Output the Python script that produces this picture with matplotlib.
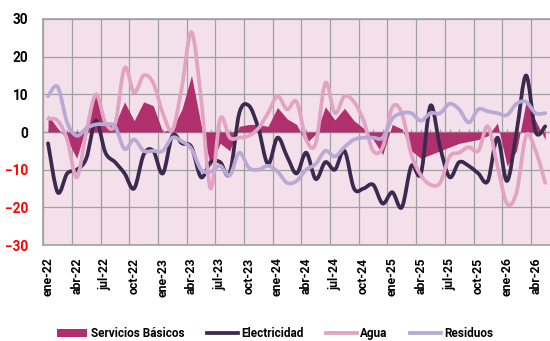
import numpy as np
import matplotlib.pyplot as plt
from matplotlib.path import Path
from matplotlib.patches import PathPatch, Patch
from matplotlib.lines import Line2D

plt.rcParams['font.family'] = ['Roboto', 'DejaVu Sans']

meses = ['ene', 'feb', 'mar', 'abr', 'may', 'jun', 'jul', 'ago', 'sep', 'oct', 'nov', 'dic']
fechas = [f'{m}-{a}' for a in range(22, 27) for m in meses][:53]

servicios = [4.5, 1, -2, -7, 1.5, 10, 2.5, 2, 8, 3, 8, 7, 0,
             1, 6, 15, 2, -9, -3, -5, 1.5, 2, 2, 1.5, 6.5, 3.5,
             2, -3, -0.5, 6.7, 3.2, 6.3, 3, 1, -2, -6, 2, 0.8, -5,
             -7, -6, -5, -4, -3, -2.5, -2, -1, 2.4, -9, -5, 8, 3, -2]
electricidad = [-3, -16, -11, -10, -7, 3, -5.5, -8, -11, -15, -6, -5, -11,
                -1, -3, -4, -12, -8, -8, -11, 5, 7, 1, -8.5, -1.5, -6.5,
                -11, -5.5, -12.5, -8, -10, -5, -15, -15, -14, -19, -16, -20, -9,
                -11, 7, -4, -12, -8, -9, -11, -13, -1.5, -13, 0, 15, 0, 1.5]
agua = [3.5, 3, -2, -12, 0, 10, 2.5, 2, 17, 10.5, 15, 13, 5,
        0.5, 12, 26.5, 9, -15, 3.5, -1.5, -1.5, -1, 1, 5, 9.5, 6,
        8, -2, -3, 13, 5, 9.5, 8, 3, -5, -4, 6.5, 5, -6,
        -11.5, -14, -13.5, -6.5, -5.5, -4, -5, 1.5, -9, -19, -16, -1, -5, -13.5]
residuos = [9.5, 12, 2.5, -1, 1, 2, 2, 1.5, -4.5, -2, -5, -5, -5,
            -1.5, -2.5, -4.5, -10, -10.5, -9, -11.5, -5.5, -9.5, -10, -9, -10.5, -13.5,
            -13, -10, -8.5, -5, -6.5, -4, -2, -1.5, -1.5, -1.5, 3.5, 5, 5,
            3, 5, 5, 7.5, 6, 2.5, 6, 5.5, 5, 4.5, 7.5, 8, 5, 5]

c_serv = '#b0306e'
c_elec = '#3b2a4f'
c_agua = '#e2a4c4'
c_resi = '#b8aad4'


def curva(x, y):
    # bezier suavizado tipo excel
    p = np.column_stack([x, y])
    ext = np.vstack([p[0], p, p[-1]])
    verts = [p[0]]
    for i in range(len(p) - 1):
        c1 = ext[i + 1] + (ext[i + 2] - ext[i]) / 6
        c2 = ext[i + 2] - (ext[i + 3] - ext[i + 1]) / 6
        verts += [c1, c2, p[i + 1]]
    codes = [Path.MOVETO] + [Path.CURVE4] * (len(verts) - 1)
    return Path(verts, codes)


x = np.arange(len(fechas))

fig = plt.figure(figsize=(5.5, 3.41), dpi=100)
ax = fig.add_axes([0.0787, 0.2815, 0.9213, 0.6628])
ax.set_facecolor('#f4e0eb')

ax.fill_between(x, servicios, 0, color=c_serv, lw=0, zorder=2)
for serie, col in [(electricidad, c_elec), (agua, c_agua), (residuos, c_resi)]:
    ax.add_patch(PathPatch(curva(x, serie), fill=False, edgecolor=col, lw=2.7,
                           capstyle='round', joinstyle='round', zorder=3))

ax.set_xlim(-0.5, 52.5)
ax.set_ylim(-30, 30)
ax.set_yticks(range(-30, 31, 10))
ax.set_xticks(x[::3])
ax.set_xticklabels(fechas[::3], rotation=90, fontsize=8.8, fontweight='bold')
ax.set_xticks(np.arange(-0.5, 53, 3), minor=True)
ax.tick_params(axis='x', which='both', length=0, pad=9)
ax.tick_params(axis='y', length=0, pad=11, labelsize=9.8)
for lab, v in zip(ax.get_yticklabels(), range(-30, 31, 10)):
    lab.set_fontweight('bold')
    lab.set_color('red' if v < 0 else 'black')

ax.grid(True, which='major', axis='y', color='#a0a0a0', lw=0.9, zorder=1)
ax.grid(True, which='minor', axis='x', color='#a0a0a0', lw=0.9, zorder=1)
ax.set_axisbelow(True)
for s in ['left', 'top', 'bottom']:
    ax.spines[s].set_color('#a0a0a0')
    ax.spines[s].set_linewidth(1.2)
ax.spines['right'].set_visible(False)

# eje horizontal en cero con marcas mensuales
eje0 = ax.secondary_xaxis(0.5)
eje0.set_xticks(x)
eje0.set_xticklabels([])
eje0.tick_params(length=2.5, width=0.8, color='#a0a0a0')
eje0.spines['bottom'].set_color('#a0a0a0')

handles = [Patch(facecolor=c_serv, label='Servicios Básicos'),
           Line2D([], [], color=c_elec, lw=2.7, label='Electricidad'),
           Line2D([], [], color=c_agua, lw=2.7, label='Agua'),
           Line2D([], [], color=c_resi, lw=2.7, label='Residuos')]
fig.legend(handles=handles, loc='center', bbox_to_anchor=(0.5, 0.022), ncol=4,
           frameon=False, handlelength=2.6, handletextpad=0.3, columnspacing=1.9,
           prop={'weight': 'bold', 'size': 8.5})

fig.savefig('out.png', dpi=100)
